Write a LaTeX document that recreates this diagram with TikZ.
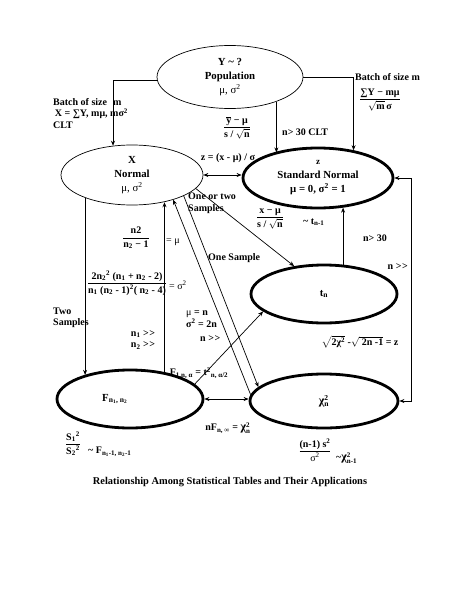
\documentclass[tikz,border=0pt]{standalone}
\usepackage{fontspec}
\setmainfont{Liberation Serif}
\usepackage{amsmath}
\usetikzlibrary{shapes.geometric,arrows.meta}
\newcommand{\sbs}[1]{\textsubscript{#1}}
\newcommand{\sps}[1]{\textsuperscript{#1}}
\newcommand{\chisq}[1]{{\large χ}$^{\text{2}}_{\text{#1}}$}
\newcommand{\mygg}{>\kern0.6pt>}
\begin{document}
\begin{tikzpicture}[x=1pt,y=-1pt,
  font=\fontsize{10}{11.5}\selectfont\bfseries,
  ell/.style={draw, ellipse, inner sep=0pt, line width=0.7pt, align=center,
    font=\fontsize{10.8}{14}\selectfont\bfseries},
  thk/.style={line width=2.8pt},
  conn/.style={line width=0.7pt},
  arr/.style={conn, -{Stealth[length=5pt,width=4pt]}},
  darr/.style={conn, {Stealth[length=5pt,width=4pt]}-{Stealth[length=5pt,width=4pt]}},
  lbl/.style={inner sep=0pt, align=center}]
\useasboundingbox[fill=white] (0,0) rectangle (459,594);

% main nodes
\node[ell, minimum width=146, minimum height=63] (pop) at (230,77)
  {Y \textasciitilde{} ?\\Population\\{\mdseries μ, σ\sps{2}}};
\node[ell, minimum width=142, minimum height=60] (xn) at (132,175)
  {X\\Normal\\{\mdseries μ, σ\sps{2}}};
\node[ell, thk, minimum width=150, minimum height=60] (sn) at (318,178)
  {{\small z}\\Standard Normal\\μ = 0, σ\sps{2} = 1};
\node[ell, thk, minimum width=146, minimum height=58] (tn) at (324,294) {t\sbs{n}};
\node[ell, thk, minimum width=146, minimum height=58] (fn) at (130,399)
  {\hspace*{-30pt}F\sbs{n\sbs{1}, n\sbs{2}}};
\node[ell, thk, minimum width=148, minimum height=54] (chi) at (324,401) {\chisq{n}};

% connectors
\draw[arr] (pop.183) -| (xn.123);
\draw[arr] (pop.east) -| (sn.38);
\draw[arr] (pop.332) -- (pop.332 |- sn.150);
\draw[darr] (xn.east) -- (sn.west |- xn.east);
\draw[arr] (tn.57) -- (tn.57 |- sn.310);
\draw[darr] (chi.east) -- ++(12,0) |- (sn.east);
\draw[arr] (xn.206) -- (xn.206 |- fn.152);
\draw[arr] (fn.38) -- (fn.38 |- xn.319);
\draw[arr] (chi.175) -- (xn.329);
\draw[arr] (xn.338) -- (chi.168);
\draw[arr] (xn.348) -- (tn.137);
\draw[arr] (fn.13) -- (tn.196);
\draw[darr] (fn.east) -- (fn.east -| chi.west);

% labels
\node[lbl, anchor=north west, align=left] (b1) at (53,98)
  {Batch of size\hspace{6pt}m\\ \,X = ∑Y, mμ, mσ\sps{2}\\CLT};
\node[lbl] (f1) at (237,128)
  {$\dfrac{\overline{\text{y}}\text{ − μ}}{\text{s / }\sqrt{\text{n}}}$};
\node[lbl, anchor=west] (clt) at (282,132) {n> 30 CLT};
\node[lbl, anchor=west] (b2) at (355,77) {Batch of size m};
\node[lbl] (f2) at (380,100)
  {$\dfrac{\text{∑Y − mμ}}{\sqrt{\text{m}}\,\text{σ}}$};
\node[lbl] (zf) at (228,158) {z = (x - μ) / σ};
\node[lbl, anchor=north west, align=left] (oot) at (188,193) {One or two\\Samples};
\node[lbl] (f3) at (270,219) {$\dfrac{\text{x − μ}}{\text{s / }\sqrt{\text{n}}}$};
\node[lbl, anchor=west] (tn1) at (303,222) {\textasciitilde{} t\sbs{n-1}};
\node[lbl, anchor=west] (os) at (208,258) {One Sample};
\node[lbl] (n30) at (375,238) {n> 30};
\node[lbl, anchor=east] (nbig) at (408,267) {n \mygg};
\node[lbl] (f4) at (136,238) {$\dfrac{\text{n2}}{\text{n\sbs{2} − 1}}$};
\node[lbl, anchor=west] (emu) at (166,242) {{\mdseries = μ}};
\node[lbl] (f5) at (127,283)
  {$\dfrac{\text{2n\sbs{2}\sps{2} (n\sbs{1} + n\sbs{2} - 2)}}{\text{n\sbs{1} (n\sbs{2} - 1)\sps{2}( n\sbs{2} - 4)}}$};
\node[lbl, anchor=west] (esig) at (169,285) {{\mdseries = σ\sps{2}}};
\node[lbl, anchor=west, align=left] (two) at (53,318) {Two\\Samples};
\node[lbl] (nn) at (143,340) {n\sbs{1} \mygg\\n\sbs{2} \mygg};
\node[lbl, anchor=west, align=left] (mun) at (186,319) {{\mdseries μ} = n\\σ\sps{2} = 2n};
\node[lbl, anchor=west] (nb2) at (200,339) {n \mygg};
\node[lbl] (ft) at (199,373) {F\sbs{1,n, α} = t\sps{2}\sbs{n, α/2}};
\node[lbl] (nf) at (228,428) {nF\sbs{n, ∞} = \chisq{n}};
\node[lbl] (sq) at (360,342)
  {$\sqrt{\text{2χ\sps{2}}}$ -$\sqrt{\text{ 2n -1}}$ = z};
\node[lbl] (f6) at (73,444) {$\dfrac{\text{S\sbs{1}\sps{2}}}{\text{S\sbs{2}\sps{2}}}$};
\node[lbl, anchor=west] (fs) at (88,452) {\textasciitilde{} F\sbs{n\sbs{1}-1, n\sbs{2}-1}};
\node[lbl] (f7) at (315,450) {$\dfrac{\text{(n-1) s\sps{2}}}{\text{{\mdseries σ\sps{2}}}}$};
\node[lbl, anchor=west] (cs) at (336,458) {\textasciitilde\chisq{n-1}};
\node[lbl, font=\fontsize{10.4}{12}\selectfont\bfseries] (cap) at (230,482)
  {Relationship Among Statistical Tables and Their Applications};
\end{tikzpicture}
\end{document}
